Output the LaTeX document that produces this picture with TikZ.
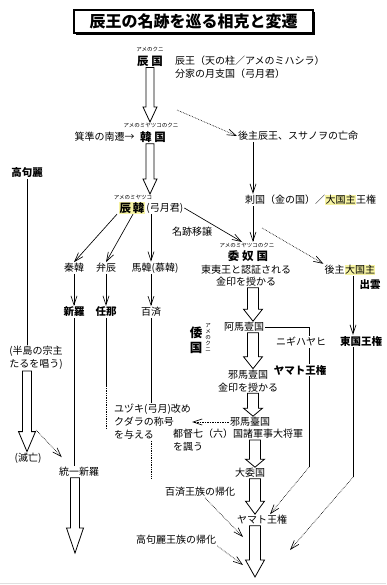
\documentclass[tikz,border=0pt]{standalone}
\usepackage{fontspec}
\setmainfont{Noto Sans CJK JP}
\usetikzlibrary{arrows.meta,calc,shadows}
\definecolor{hlyel}{HTML}{F6F3A2}
\newcommand{\hlt}[1]{{\setlength{\fboxsep}{0.4pt}\colorbox{hlyel}{#1}}}
% hollow block arrow between two points
\newcommand{\fatshaft}{5.5pt}
\newcommand{\fathead}{9.5pt}
\newcommand{\fatarrow}[3][14]{%
  \draw[fat] let \p1=(#2), \p2=(#3) in
    (\x1-\fatshaft,\y1) -- (\x1-\fatshaft,\y2+#1pt) -- (\x1-\fathead,\y2+#1pt)
    -- (\x1,\y2) -- (\x1+\fathead,\y2+#1pt) -- (\x1+\fatshaft,\y2+#1pt)
    -- (\x1+\fatshaft,\y1) -- cycle;}

\begin{document}
\begin{tikzpicture}[x=1pt,y=-1pt,
  font=\fontsize{10}{13}\selectfont,
  lbl/.style={inner sep=1pt,align=center},
  ruby/.style={inner sep=0.5pt,align=center,font=\fontsize{5.5}{6}\selectfont},
  bold/.style={inner sep=1pt,align=center,font=\fontsize{10.5}{12}\selectfont\bfseries},
  big/.style={inner sep=1pt,font=\fontsize{11.5}{13}\selectfont\bfseries},
  titlebox/.style={draw,line width=1.2pt,fill=white,minimum width=239pt,minimum height=23pt,
    inner sep=0pt,font=\fontsize{16}{18}\selectfont\bfseries,
    drop shadow={shadow xshift=2.2pt,shadow yshift=-2.2pt,fill=black,opacity=1}},
  arr/.style={-{Straight Barb[length=9pt,width=6pt]},line width=0.65pt},
  dot/.style={arr,densely dotted},
  plain/.style={line width=0.75pt},
  dotline/.style={line width=0.75pt,densely dotted},
  fat/.style={draw=black,line width=0.8pt,fill=white},
]
\fill[white] (0,0) rectangle (386,585);
\useasboundingbox (0,0) rectangle (386,585);
\draw[black!12,line width=1.5pt] (0,583.5) -- (386,583.5);

\node[titlebox] (ttl) at (193.5,21.5) {辰王の名跡を巡る相克と変遷};

% column guides
\coordinate (wacol) at (253,0);
\coordinate (wacolb) at (255,0);
\coordinate (nline) at (309,0);
\coordinate (tline) at (353,0);

% top
\node[ruby] (rA) at (150,49) {アメのクニ};
\node[big] (shinkoku) at (150,61) {辰\hspace{3pt}国};
\node[lbl,anchor=west] (shinou) at (174,61) {辰王（天の柱／アメのミハシラ）};
\node[lbl,anchor=west] (bunke) at (174,74) {分家の月支国（弓月君）};

\node[ruby] (rB) at (151,125) {アメのミヤツコのクニ};
\node[big] (kankoku) at (153,137) {韓\hspace{3pt}国};
\node[lbl,anchor=east] (kijun) at ([xshift=-3pt]kankoku.west) {箕準の南遷→};

\node[lbl,anchor=west] (kogo) at (237,136) {後主辰王、スサノヲの亡命};
\node[lbl,anchor=west] (shikoku) at (244,200) {刺国（金の国）／\hlt{大国主}王権};

\node[ruby] (rC) at (133,197) {アメのミヤツコ};
\node[big,fill=hlyel,inner sep=0.5pt] (shinkan) at (132,208) {辰\hspace{2pt}韓};
\node[lbl,anchor=west] (yuzukikun) at (shinkan.east) {(弓月君)};
\node[lbl] (meiseki) at (192,232) {名跡移譲};

% left
\node[bold] (kokuri) at (27,173) {高句麗};
\node[lbl] (hanto) at (36,358) {(半島の宗主\\たるを唱う)};
\node[lbl] (metsubo) at (28,458) {(滅亡)};

\node[lbl] (shinkan2) at (74,268) {秦韓};
\node[lbl] (benshin) at (106,268) {弁辰};
\node[lbl] (bakan) at (155,268) {馬韓(慕韓)};
\node[bold] (shiragi) at (74,312) {新羅};
\node[bold] (mimana) at (106,312) {任那};
\node[lbl] (kudara) at (151,312) {百済};
\node[lbl] (toitsu) at (79,472) {統一新羅};
\coordinate (toitsuend) at (75,553);

\node[lbl,align=left,anchor=north west] (yuzuki) at (113,403) {ユヅキ(弓月)改め\\クダラの称号\\を与える};

% wa column
\node[ruby] (rD) at (247,245) {アメのミヤツコのクニ};
\node[big] (wana) at (248,256) {委\hspace{3pt}奴\hspace{3pt}国};
\node[lbl,font=\fontsize{10}{12}\selectfont] (wanatxt) at (246,276) {東夷王と認証される\\金印を授かる};
\node[big,align=center,font=\fontsize{12.5}{15}\selectfont\bfseries] (wakoku) at (196,340) {倭\\国};
\node[ruby] (rW) at (208,338) {ア\\メ\\の\\ク\\ニ};
\node[lbl] (ama) at (244,327) {阿馬壹国};
\node[lbl] (yamai) at (248,381) {邪馬壹国\\金印を授かる};
\node[lbl] (yamadai) at (250,422) {邪馬臺国};
\node[lbl,anchor=west] (totoku) at (172,434) {都督七（六）国諸軍事大将軍};
\node[lbl,anchor=west] (fuu) at (172,447) {を諷う};
\node[lbl] (daiwa) at (250,473) {大委国};
\node[lbl] (yamato) at (262,520) {ヤマト王権};
\coordinate (yamatoend) at (255,577);

\node[lbl] (kkika) at (200,492) {百済王族の帰化};
\node[lbl] (gkika) at (176,540) {高句麗王族の帰化};

% right
\node[lbl] (gokoshu) at (350,270) {後主\hlt{大国主}};
\node[bold] (izumo) at (370,285) {出雲};
\node[bold] (togoku) at (361,341) {東国王権};

% free ends
\coordinate (kdot) at (177,110);
\coordinate (sdot) at (262,228);
\coordinate (ldot) at (36,430);
\coordinate (tend) at (290,550);
\coordinate (kend) at (243,537);
\coordinate (gend) at (243,565);

% ---- connectors
\draw[plain] (ama.east) -- (ama.east -| nline) -- (nline |- daiwa.north) coordinate (nbend);
\node[lbl,fill=white] (nigi) at (301,342) {ニギハヤヒ};
\node[bold,fill=white,inner sep=0.5pt] (yamatoken) at (300,370) {ヤマト王権};

\renewcommand{\fatshaft}{4pt}\renewcommand{\fathead}{7pt}
\fatarrow[15]{shinkoku.south}{rB.north -| shinkoku.south}
\fatarrow[15]{kankoku.south -| shinkoku.south}{rC.north -| shinkoku.south}
\renewcommand{\fatshaft}{4.5pt}\renewcommand{\fathead}{8.5pt}
\fatarrow[20]{hanto.south -| kokuri.south}{metsubo.north -| kokuri.south}
\fatarrow[25]{toitsu.south -| toitsuend}{toitsuend}
\renewcommand{\fatshaft}{5.5pt}\renewcommand{\fathead}{9.5pt}
\fatarrow[12]{wanatxt.south -| wacol}{ama.north -| wacol}
\fatarrow[12]{ama.south -| wacol}{yamai.north -| wacol}
\fatarrow[8]{yamai.south -| wacol}{yamadai.north -| wacol}
\fatarrow[8]{totoku.south -| wacolb}{daiwa.north -| wacolb}
\fatarrow[13]{daiwa.south -| wacolb}{yamato.north -| wacolb}
\fatarrow[17]{yamato.south -| wacolb}{yamatoend}

\draw[dot] (kdot) -- (kogo.west);
\draw[arr] (kogo.south -| wacol) -- (shikoku.north -| wacol);
\draw[arr] (shikoku.south -| wacol) -- (rD.north -| wacol);
\draw[dot] (sdot) -- (gokoshu.north west);
\draw[arr] (yuzukikun.east) -- ([xshift=-5pt]rD.north);

\draw[arr] ([xshift=-15pt]shinkan.south) -- (shinkan2.north);
\draw[arr] ([xshift=1pt]shinkan.south) -- (benshin.north);
\draw[arr] (shinkan.south -| kudara.north) -- (bakan.north -| kudara.north);
\draw[arr] (shinkan2.south) -- (shiragi.north);
\draw[arr] (benshin.south) -- (mimana.north);
\draw[arr] (bakan.south -| kudara.north) -- (kudara.north);

\draw[plain] (kokuri.south) -- (kokuri.south |- hanto.north);
\draw[dot] (ldot) -- ([shift={(4,-9)}]toitsu.north west);
\draw[plain] (shiragi.south) -- (shiragi.south |- toitsu.north);
\draw[plain] (mimana.south) -- ++(0,68) coordinate (mimdot);
\draw[dotline] (mimdot) -- ++(0,43);
\draw[plain] (kudara.south) -- (kudara.south |- yuzuki.north);
\draw[dotline] (kudara.south |- yuzuki.south) -- ++(0,37);
\draw[dot] (yamadai.west) -- (yuzuki.east |- yamadai.west);

\draw[dot] (nbend) -- ([xshift=8pt]yamato.north);
\draw[arr] (gokoshu.south -| tline) -- (togoku.north -| tline);
\draw[plain] (togoku.south -| tline) -- ++(0,130) coordinate (tbend);
\draw[dot] (tbend) -- (tend);
\draw[dot] ([xshift=5pt]kkika.south) -- (kend);
\draw[dot] (gkika.south east) -- (gend);

\end{tikzpicture}
\end{document}
